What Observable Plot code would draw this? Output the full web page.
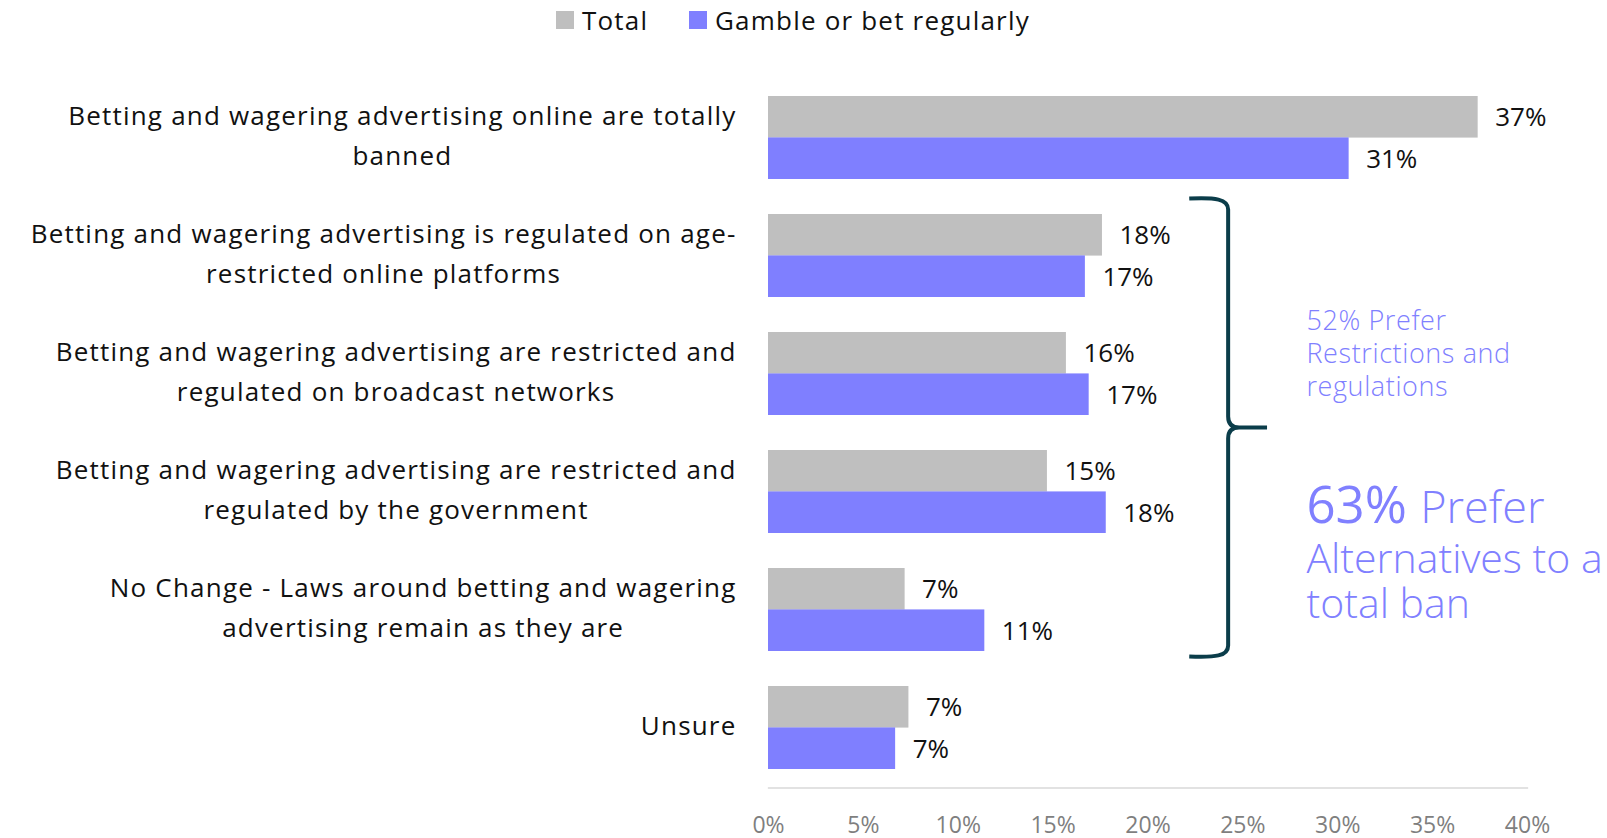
<!DOCTYPE html>
<html>
<head>
<meta charset="utf-8">
<script src="https://cdn.jsdelivr.net/npm/d3@7"></script>
<script src="https://cdn.jsdelivr.net/npm/@observablehq/plot@0.6"></script>
<style>
  html, body { margin: 0; padding: 0; background: #ffffff; }
  body { font-family: "Open Sans", sans-serif; width: 1607px; height: 838px; overflow: hidden; }
  #legend { position: relative; height: 39px; margin-bottom: 2px; font-size: 26px; color: #111; letter-spacing: 1.2px; }
  .item { position: absolute; top: 0; height: 39px; display: flex; align-items: center; white-space: nowrap; }
  .sw { width: 18px; height: 18px; margin-right: 8px; display: inline-block; }
  #chart svg { display: block; overflow: visible; }
</style>
</head>
<body>
<div id="legend"></div>
<div id="chart"></div>
<script>
// ---------- data ----------
const categories = [
  "Betting and wagering advertising online are totally banned",
  "Betting and wagering advertising is regulated on age-restricted online platforms",
  "Betting and wagering advertising are restricted and regulated on broadcast networks",
  "Betting and wagering advertising are restricted and regulated by the government",
  "No Change - Laws around betting and wagering advertising remain as they are",
  "Unsure"
];
const categoryLines = [
  "Betting and wagering advertising online are totally\nbanned",
  "Betting and wagering advertising is regulated on age-\nrestricted online platforms",
  "Betting and wagering advertising are restricted and\nregulated on broadcast networks",
  "Betting and wagering advertising are restricted and\nregulated by the government",
  "No Change - Laws around betting and wagering\nadvertising remain as they are",
  "Unsure"
];
const seriesNames = ["Total", "Gamble or bet regularly"];
const totalValues = [37.4, 17.6, 15.7, 14.7, 7.2, 7.4];
const gambleValues = [30.6, 16.7, 16.9, 17.8, 11.4, 6.7];
const seriesColors = ["#bfbfbf", "#7f7fff"];
const xTicks = [0, 5, 10, 15, 20, 25, 30, 35, 40];
const noteSmall = "52% Prefer\nRestrictions and\nregulations";
const noteBigTitle = "63% Prefer";
const noteBigBody = "Alternatives to a\ntotal ban";

// ---------- table ----------
const rows = [];
categories.forEach((c, i) => {
  rows.push({category: c, series: seriesNames[0], value: totalValues[i]});
  rows.push({category: c, series: seriesNames[1], value: gambleValues[i]});
});
const totalRows = rows.filter(d => d.series === seriesNames[0]);
const gambleRows = rows.filter(d => d.series === seriesNames[1]);

// ---------- layout ----------
const W = 1607, H = 797;
const mTop = 36.5, mBottom = 50.5, mLeft = 768, mRight = 80;
const padIn = 0.3, padOut = 0.15;
const step = (H - mTop - mBottom) / (categories.length - padIn + 2 * padOut);
const bw = step * (1 - padIn);
const half = bw / 2;
const noteColor = "#8080ff";

// ---------- legend ----------
const legend = d3.select("#legend");
const legendLeft = [556, 689];
seriesNames.forEach((s, i) => {
  const it = legend.append("div").attr("class", "item").style("left", legendLeft[i] + "px");
  it.append("span").attr("class", "sw").style("background", seriesColors[i]);
  it.append("span").text(s);
});

// ---------- plot ----------
const plot = Plot.plot({
  width: W,
  height: H,
  marginTop: mTop,
  marginBottom: mBottom,
  marginLeft: mLeft,
  marginRight: mRight,
  style: {fontFamily: "'Open Sans', sans-serif", background: "#ffffff", overflow: "visible"},
  x: {domain: [0, 40]},
  y: {domain: categories, paddingInner: padIn, paddingOuter: padOut, axis: null},
  marks: [
    Plot.frame({anchor: "bottom", stroke: "#d9d9d9", strokeWidth: 1.3}),
    Plot.axisX({ticks: xTicks, tickFormat: d => d + "%", tickSize: 0, tickPadding: 29, fontSize: 23, color: "#7f7f7f", label: null}),
    Plot.barX(totalRows, {x: "value", y: "category", fill: seriesColors[0], insetBottom: half}),
    Plot.barX(gambleRows, {x: "value", y: "category", fill: seriesColors[1], insetTop: half}),
    Plot.text(totalRows, {x: "value", y: "category", text: d => Math.round(d.value) + "%", dx: 17, dy: -half / 2, textAnchor: "start", fontSize: 26, fill: "#111"}),
    Plot.text(gambleRows, {x: "value", y: "category", text: d => Math.round(d.value) + "%", dx: 17, dy: half / 2 + 1, textAnchor: "start", fontSize: 26, fill: "#111"}),
    Plot.text(categories, {y: d => d, text: (d, i) => categoryLines[i], frameAnchor: "left", textAnchor: "end", dx: -32, dy: -6, fontSize: 26, lineHeight: 40 / 26, fill: "#111"}),
    Plot.text([noteSmall], {x: () => 28.35, y: () => categories[2], text: d => d, textAnchor: "start", fontSize: 27, fontWeight: 300, lineHeight: 33 / 27, dy: -22, fill: noteColor}),
    Plot.text([noteBigTitle], {x: () => 28.35, y: () => categories[3], text: d => d, textAnchor: "start", fontSize: 45, fontWeight: 300, dy: 17, fill: noteColor}),
    Plot.text([noteBigBody], {x: () => 28.35, y: () => categories[3], text: d => d, textAnchor: "start", fontSize: 41, fontWeight: 300, lineHeight: 45 / 41, dy: 89, fill: noteColor})
  ]
});
document.getElementById("chart").append(plot);

const ns = "http://www.w3.org/2000/svg";
const allTexts = Array.from(plot.querySelectorAll("text"));
const flat = s => s.replace(/\n/g, "");

// category labels: widen slightly and center each line within its block
categoryLines.forEach(lbl => {
  const t = allTexts.find(el => el.textContent === flat(lbl));
  if (!t) return;
  t.style.letterSpacing = "1.2px";
  const spans = t.querySelectorAll("tspan");
  if (!spans.length) return;
  const w = t.getBBox().width;
  t.setAttribute("text-anchor", "middle");
  spans.forEach(s => s.setAttribute("x", -w / 2));
});

// small note: slight letter spacing
const tSmall = allTexts.find(el => el.textContent === flat(noteSmall));
if (tSmall) tSmall.style.letterSpacing = "0.6px";

// mixed weight on "63% Prefer"
const tTitle = allTexts.find(el => el.textContent === noteBigTitle);
if (tTitle) {
  const parts = noteBigTitle.split(" ");
  tTitle.textContent = "";
  const a = document.createElementNS(ns, "tspan");
  a.setAttribute("font-weight", "500");
  a.setAttribute("font-size", "51");
  a.textContent = parts[0] + " ";
  const b = document.createElementNS(ns, "tspan");
  b.textContent = parts.slice(1).join(" ");
  tTitle.append(a, b);
}

// brace, positioned through the plot's own scales
const xs = plot.scale("x"), ys = plot.scale("y");
const X = d3.scaleLinear().domain(xs.domain).range(xs.range);
const Y = d3.scaleBand().domain(ys.domain).range(ys.range)
  .paddingInner(ys.paddingInner).paddingOuter(ys.paddingOuter).align(ys.align ?? 0.5);
const xTip = X(22.2), xV = X(24.25), xMid = X(26.3);
const yTop = Y(categories[1]) - 15;
const yBot = Y(categories[4]) + Y.bandwidth() + 5;
const yMid = (yTop + yBot) / 2;
const r = 11;
const path = [
  `M${xTip},${yTop}`,
  `C${xTip + 26},${yTop - 1} ${xV},${yTop} ${xV},${yTop + r}`,
  `L${xV},${yMid - r}`,
  `Q${xV},${yMid} ${xV + r},${yMid}`,
  `L${xMid},${yMid}`,
  `M${xV + r},${yMid}`,
  `Q${xV},${yMid} ${xV},${yMid + r}`,
  `L${xV},${yBot - r}`,
  `C${xV},${yBot} ${xTip + 26},${yBot + 1} ${xTip},${yBot}`
].join(" ");
d3.select(plot).append("path")
  .attr("d", path)
  .attr("fill", "none")
  .attr("stroke", "#0b3d4a")
  .attr("stroke-width", 4);
</script>
</body>
</html>
